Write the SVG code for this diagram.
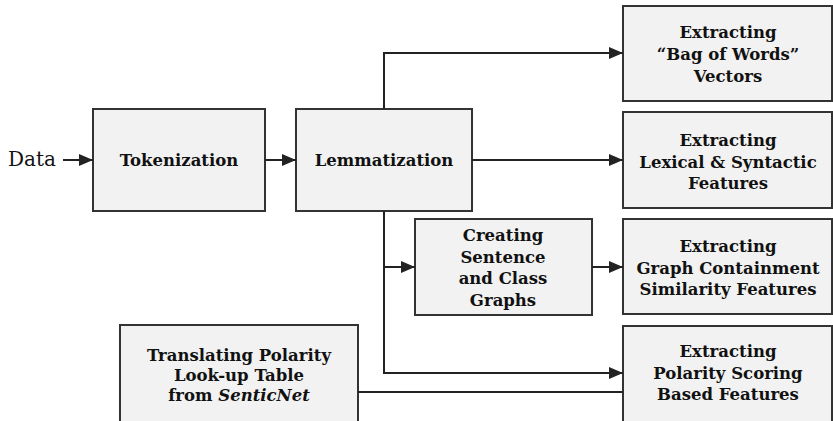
<svg xmlns="http://www.w3.org/2000/svg" width="833" height="421" viewBox="0 0 833 421">
<style>
.box{fill:#f2f2f2;stroke:#333;stroke-width:2}
.t{font-family:"DejaVu Serif","Liberation Serif",serif;font-weight:bold;font-size:16.5px;fill:#111;text-anchor:middle}
.c{fill:none;stroke:#222;stroke-width:2}
</style>
<defs>
<marker id="ah" markerWidth="14" markerHeight="12" refX="14" refY="6" orient="auto" markerUnits="userSpaceOnUse">
<path d="M0,0 L14,6 L0,12 Z" fill="#222"/>
</marker>
</defs>
<rect width="833" height="421" fill="#fff"/>
<g id="data"><text x="8" y="166" style="font-family:'DejaVu Serif','Liberation Serif',serif;font-size:20px;fill:#111">Data</text></g>
<g id="tokenization"><rect class="box" x="93" y="109" width="172" height="102"/><text class="t" x="179" y="166">Tokenization</text></g>
<g id="lemmatization"><rect class="box" x="296" y="109" width="176" height="102"/><text class="t" x="384" y="166">Lemmatization</text></g>
<g id="bow"><rect class="box" x="623" y="6" width="209" height="95"/><text class="t" x="728" y="38">Extracting</text><text class="t" x="728" y="60">“Bag of Words”</text><text class="t" x="728" y="82">Vectors</text></g>
<g id="lexical"><rect class="box" x="623" y="112" width="209" height="96"/><text class="t" x="728" y="146">Extracting</text><text class="t" x="728" y="167.5">Lexical &amp; Syntactic</text><text class="t" x="728" y="189">Features</text></g>
<g id="graphfeat"><rect class="box" x="623" y="219" width="209" height="95"/><text class="t" x="728" y="252">Extracting</text><text class="t" x="728" y="273.5">Graph Containment</text><text class="t" x="728" y="295">Similarity Features</text></g>
<g id="polarity"><rect class="box" x="623" y="326" width="209" height="100"/><text class="t" x="728" y="357">Extracting</text><text class="t" x="728" y="378.5">Polarity Scoring</text><text class="t" x="728" y="400">Based Features</text></g>
<g id="creating"><rect class="box" x="415" y="219" width="177" height="96"/><text class="t" x="503" y="241">Creating</text><text class="t" x="503" y="262.5">Sentence</text><text class="t" x="503" y="284">and Class</text><text class="t" x="503" y="305.5">Graphs</text></g>
<g id="translating"><rect class="box" x="120" y="325" width="238" height="100"/><text class="t" x="239" y="361">Translating Polarity</text><text class="t" x="239" y="381">Look-up Table</text><text class="t" x="239" y="401">from <tspan font-style="italic">SenticNet</tspan></text></g>
<g id="connectors">
<path class="c" d="M63,160 H93" marker-end="url(#ah)"/>
<path class="c" d="M265,160 H296" marker-end="url(#ah)"/>
<path class="c" d="M384,109 V53 H623" marker-end="url(#ah)"/>
<path class="c" d="M472,160 H623" marker-end="url(#ah)"/>
<path class="c" d="M384,211 V373 H623" marker-end="url(#ah)"/>
<path class="c" d="M384,267 H415" marker-end="url(#ah)"/>
<path class="c" d="M592,267 H623" marker-end="url(#ah)"/>
<path class="c" d="M358,392 H623"/>
</g>
</svg>
